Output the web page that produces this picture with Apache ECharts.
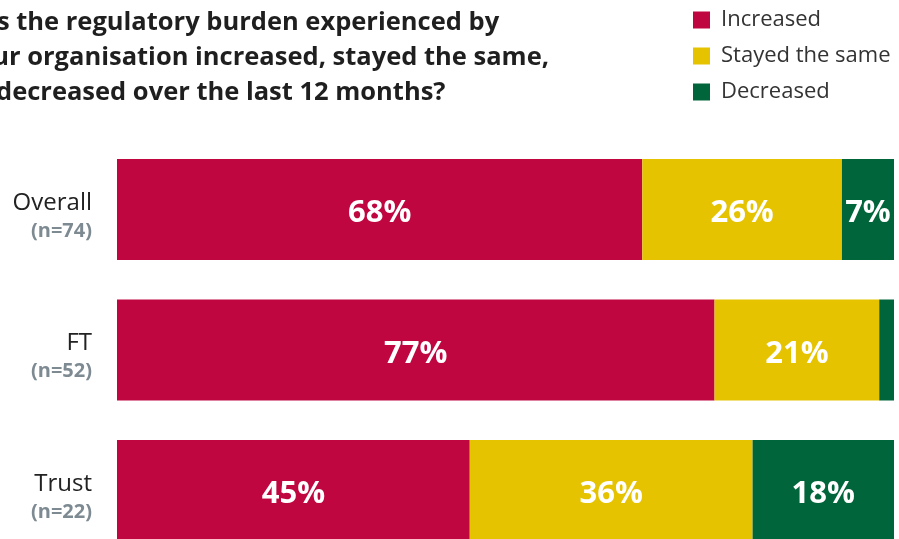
<!DOCTYPE html>
<html>
<head>
<meta charset="utf-8">
<script src="https://cdn.jsdelivr.net/npm/echarts@6/dist/echarts.min.js"></script>
<style>html,body{margin:0;padding:0;background:#fff}#c{width:899px;height:539px}</style>
</head>
<body>
<div id="c"></div>
<script>
const categories = ['Overall', 'FT', 'Trust'];
const sampleSizes = ['(n=74)', '(n=52)', '(n=22)'];
const seriesNames = ['Increased', 'Stayed the same', 'Decreased'];
const increased = [67.6, 76.9, 45.4];
const stayedSame = [25.7, 21.2, 36.4];
const decreased = [6.7, 1.9, 18.2];
const colors = ['#BF0640', '#E5C300', '#00653A'];
const titleText = 'Has the regulatory burden experienced by\nyour organisation increased, stayed the same,\nor decreased over the last 12 months?';

const chart = echarts.init(document.getElementById('c'));
const values = [increased, stayedSame, decreased];
const font = '"Open Sans", "Noto Sans", sans-serif';

chart.setOption({
  animation: false,
  title: {
    text: titleText,
    left: -43,
    top: 0,
    textStyle: { fontFamily: font, fontWeight: 'bold', fontSize: 25.5, lineHeight: 35, color: '#1f1f1f' }
  },
  legend: {
    orient: 'vertical',
    left: 688,
    top: 4,
    itemWidth: 17,
    itemHeight: 17,
    itemGap: 14,
    icon: 'rect',
    data: seriesNames,
    textStyle: { fontFamily: font, fontSize: 22, color: '#333', padding: [0, 0, 0, 6] }
  },
  grid: { left: 117, right: 5, top: 209.5, height: 281, containLabel: false },
  xAxis: { type: 'value', min: 0, max: 100, show: false },
  yAxis: {
    type: 'category',
    inverse: true,
    boundaryGap: false,
    data: categories,
    axisLine: { show: false },
    axisTick: { show: false },
    axisLabel: {
      margin: 25,
      padding: [13, 0, 0, 0],
      formatter: (v, i) => '{a|' + v + '}\n{b|' + sampleSizes[i] + '}',
      rich: {
        a: { fontFamily: font, fontSize: 24, lineHeight: 30, color: '#222', align: 'right' },
        b: { fontFamily: font, fontSize: 20, fontWeight: 'bold', lineHeight: 26, color: '#7d8a92', align: 'right' }
      }
    }
  },
  series: seriesNames.map((name, k) => ({
    name,
    type: 'bar',
    stack: 'total',
    barWidth: 101,
    clip: false,
    itemStyle: { color: colors[k] },
    label: {
      show: true,
      position: 'inside',
      offset: [0, 4],
      color: '#fff',
      fontFamily: font,
      fontWeight: 'bold',
      fontSize: 31,
      formatter: p => p.value < 5 ? '' : Math.round(p.value) + '%'
    },
    data: values[k]
  }))
});
</script>
</body>
</html>
